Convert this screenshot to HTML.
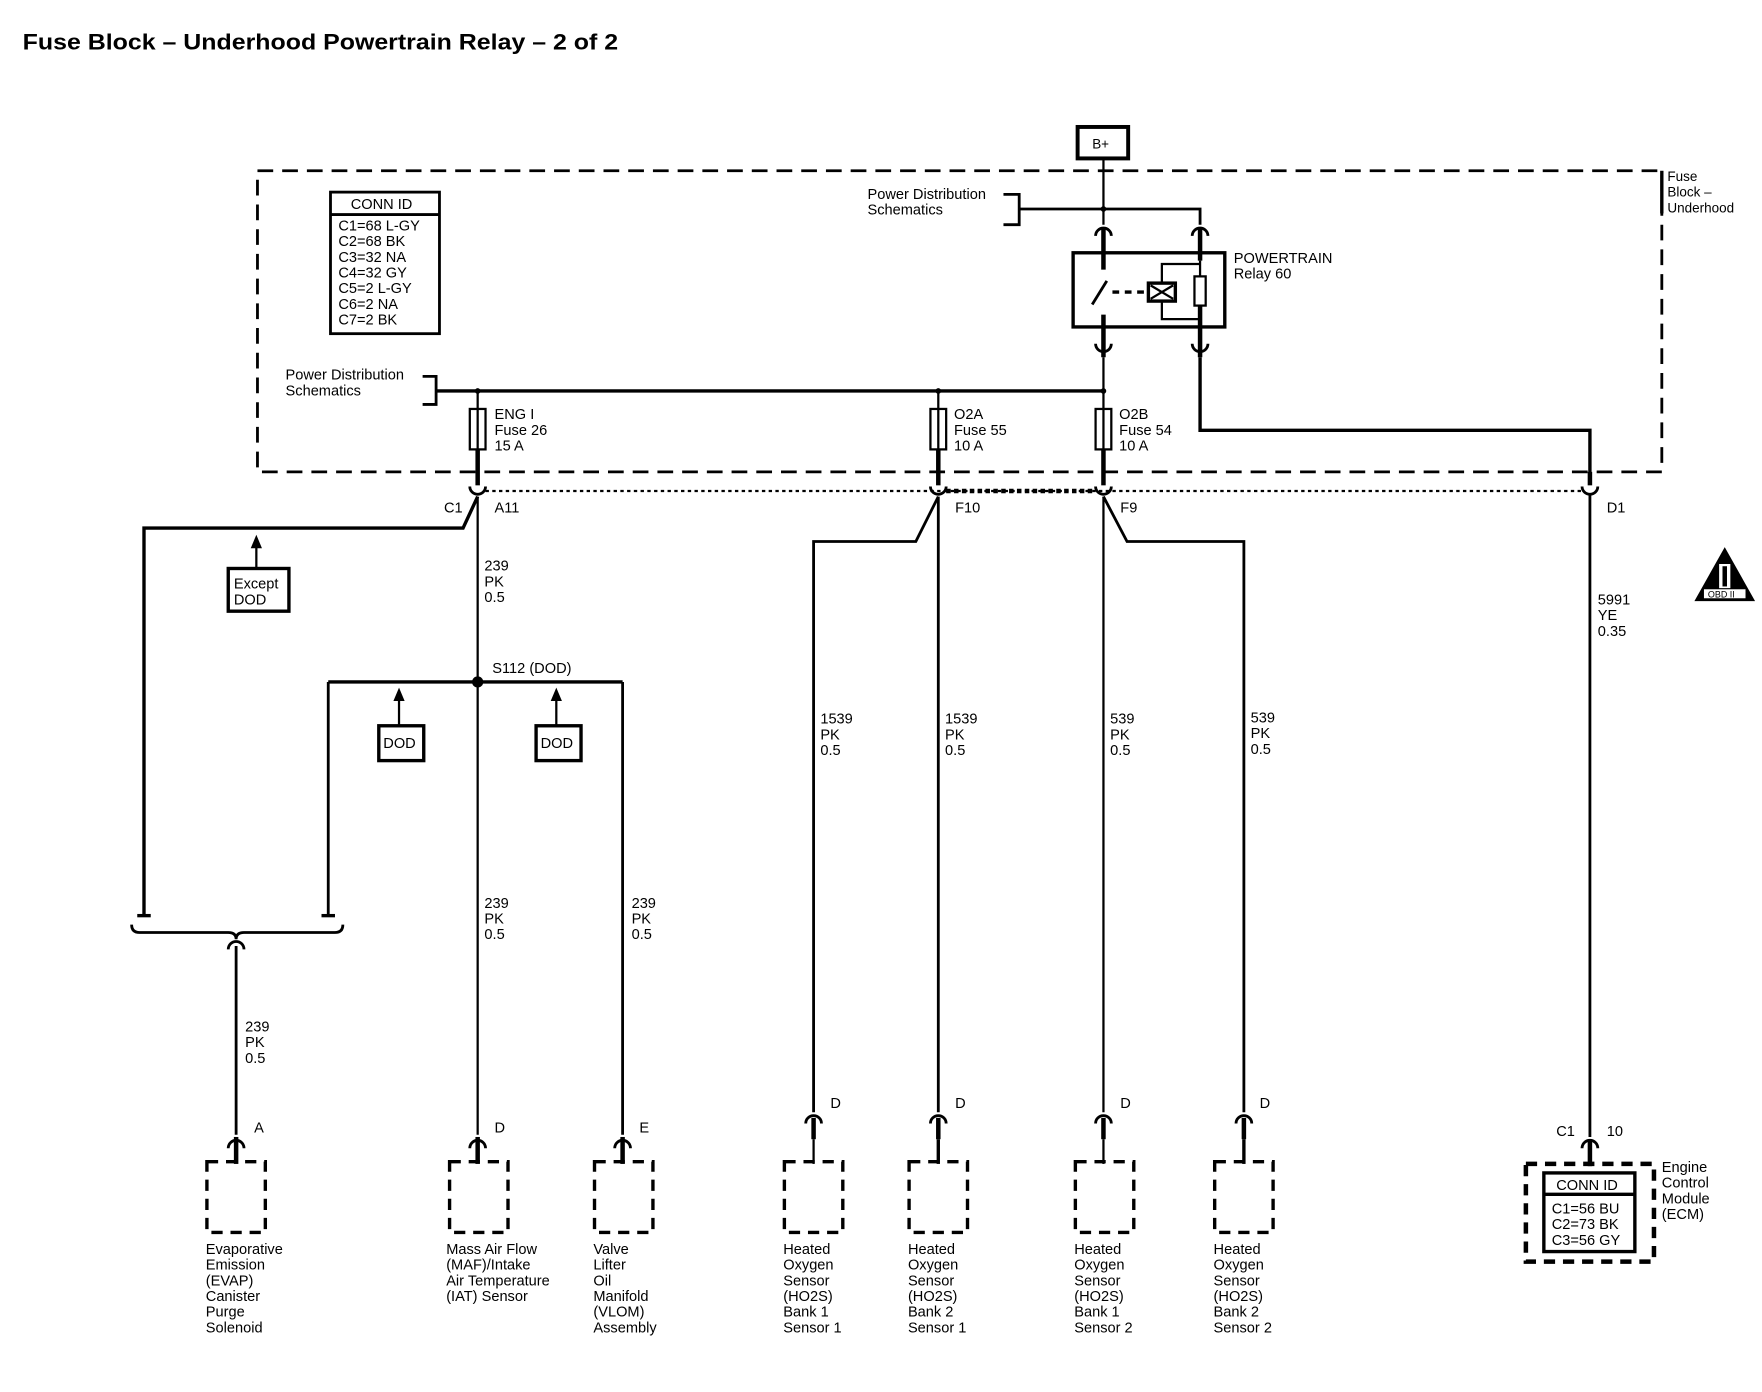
<!DOCTYPE html>
<html><head><meta charset="utf-8"><style>
html,body{margin:0;padding:0;background:#fff;}
svg{display:block;}
text{font-family:"Liberation Sans",sans-serif;font-size:13px;fill:#000;}
</style></head><body>
<svg width="1762" height="1392" viewBox="0 0 1568 1239" xmlns="http://www.w3.org/2000/svg">
<text x="20" y="44" style="font-size:20px;font-weight:bold" textLength="530" lengthAdjust="spacingAndGlyphs">Fuse Block – Underhood Powertrain Relay – 2 of 2</text>

<rect x="959" y="113" width="45" height="28" fill="none" stroke="#000" stroke-width="3.5"/>
<text x="972" y="132" style="font-size:12px">B+</text>

<rect x="229" y="152" width="1250" height="268" fill="none" stroke="#000" stroke-width="2.5" stroke-dasharray="14,8"/>
<line x1="1479" y1="152" x2="1479" y2="190" stroke="#000" stroke-width="3"/>
<text x="1484" y="161" style="font-size:12px">Fuse</text>
<text x="1484" y="175" style="font-size:12px">Block –</text>
<text x="1484" y="189" style="font-size:12px">Underhood</text>

<rect x="294" y="171" width="97" height="126" fill="none" stroke="#000" stroke-width="2.5"/>
<line x1="294" y1="191" x2="391" y2="191" stroke="#000" stroke-width="2.5"/>
<g style="font-size:12px">
<text x="312" y="186">CONN ID</text>
<text x="301" y="205">C1=68 L-GY</text>
<text x="301" y="219">C2=68 BK</text>
<text x="301" y="233">C3=32 NA</text>
<text x="301" y="247">C4=32 GY</text>
<text x="301" y="261">C5=2 L-GY</text>
<text x="301" y="275">C6=2 NA</text>
<text x="301" y="289">C7=2 BK</text>
</g>

<g stroke="#000" fill="none" stroke-width="2">
<line x1="982" y1="142" x2="982" y2="200"/>
<polyline points="907,186 1068,186 1068,200" stroke-width="2.5"/>
<polyline points="893,173 907,173 907,200 893,200" stroke-width="2.5"/>
<path d="M975,210 A7,7 0 0 1 989,210" stroke-width="2.5"/>
<path d="M1061,210 A7,7 0 0 1 1075,210" stroke-width="2.5"/>
<line x1="982" y1="203" x2="982" y2="240" stroke-width="4"/>
<line x1="1068" y1="203" x2="1068" y2="232" stroke-width="4"/>
<rect x="955" y="225" width="135" height="66" stroke-width="3"/>
<line x1="972" y1="271" x2="985" y2="250" stroke-width="2.5"/>
<line x1="990" y1="260" x2="1020" y2="260" stroke-width="3" stroke-dasharray="6,5"/>
<rect x="1022" y="252" width="24" height="16" stroke-width="3"/>
<line x1="1024" y1="254" x2="1044" y2="266" stroke-width="2"/>
<line x1="1044" y1="254" x2="1024" y2="266" stroke-width="2"/>
<polyline points="1034,252 1034,235 1068,235"/>
<polyline points="1034,268 1034,284 1068,284"/>
<rect x="1063" y="246" width="10" height="26" stroke-width="2"/>
<line x1="1068" y1="232" x2="1068" y2="246"/>
<line x1="1068" y1="272" x2="1068" y2="318" stroke-width="4"/>
<line x1="982" y1="280" x2="982" y2="318" stroke-width="4"/>
<path d="M975,306 A7,7 0 0 0 989,306" stroke-width="2.5"/>
<path d="M1061,306 A7,7 0 0 0 1075,306" stroke-width="2.5"/>
<line x1="982" y1="318" x2="982" y2="348"/>
<polyline points="1068,318 1068,383 1415,383 1415,428" stroke-width="3"/>
<polyline points="376,335 388,335 388,360 376,360" stroke-width="2.5"/>
<line x1="388" y1="348" x2="982" y2="348" stroke-width="3"/>
<line x1="425" y1="348" x2="425" y2="364"/>
<line x1="835" y1="348" x2="835" y2="364"/>
<line x1="982" y1="348" x2="982" y2="364"/>
<rect x="418" y="364" width="14" height="36"/>
<rect x="828" y="364" width="14" height="36"/>
<rect x="975" y="364" width="14" height="36"/>
<line x1="425" y1="364" x2="425" y2="400"/>
<line x1="835" y1="364" x2="835" y2="400"/>
<line x1="982" y1="364" x2="982" y2="400"/>
<line x1="425" y1="400" x2="425" y2="432" stroke-width="4"/>
<line x1="835" y1="400" x2="835" y2="432" stroke-width="4"/>
<line x1="982" y1="400" x2="982" y2="432" stroke-width="4"/>
<line x1="1415" y1="420" x2="1415" y2="432" stroke-width="4"/>
<line x1="432" y1="437" x2="1408" y2="437" stroke-dasharray="3,3"/>
<line x1="842" y1="437" x2="975" y2="437" stroke-width="4" stroke-dasharray="4,3"/>
<path d="M418,433 A7,7 0 0 0 432,433" stroke-width="2.5"/>
<path d="M828,433 A7,7 0 0 0 842,433" stroke-width="2.5"/>
<path d="M975,433 A7,7 0 0 0 989,433" stroke-width="2.5"/>
<path d="M1408,433 A7,7 0 0 0 1422,433" stroke-width="2.5"/>
<polyline points="425,442 412,470 128,470 128,815" stroke-width="3"/>
<line x1="425" y1="442" x2="425" y2="1010"/>
<line x1="292" y1="607" x2="554" y2="607" stroke-width="3"/>
<line x1="292" y1="607" x2="292" y2="815" stroke-width="2.5"/>
<line x1="554" y1="607" x2="554" y2="1010" stroke-width="2.5"/>
<line x1="228" y1="486" x2="228" y2="506"/>
<line x1="355" y1="622" x2="355" y2="646"/>
<line x1="495" y1="622" x2="495" y2="646"/>
<rect x="203" y="506" width="54" height="38" stroke-width="3"/>
<rect x="337" y="646" width="40" height="31" stroke-width="3"/>
<rect x="477" y="646" width="40" height="31" stroke-width="3"/>
<path d="M122,815 L134,815" stroke-width="3"/>
<path d="M286,815 L298,815" stroke-width="3"/>
<path d="M117,823 Q117,830 124,830 L203,830 Q210,830 210,836 Q210,830 217,830 L298,830 Q305,830 305,823" stroke-width="2.5"/>
<path d="M203,845 A7,7 0 0 1 217,845" stroke-width="2.5"/>
<line x1="210" y1="842" x2="210" y2="1010" stroke-width="2.5"/>
<polyline points="835,442 815,482 724,482 724,990" stroke-width="2.5"/>
<line x1="835" y1="442" x2="835" y2="990" stroke-width="2.5"/>
<polyline points="982,442 1003,482 1107,482 1107,990" stroke-width="2.5"/>
<line x1="982" y1="442" x2="982" y2="990"/>
<line x1="1415" y1="440" x2="1415" y2="1012" stroke-width="2.5"/>
<g stroke-width="3" stroke-dasharray="10,7">
<rect x="184" y="1034" width="52" height="63"/>
<rect x="400" y="1034" width="52" height="63"/>
<rect x="529" y="1034" width="52" height="63"/>
<rect x="698" y="1034" width="52" height="63"/>
<rect x="809" y="1034" width="52" height="63"/>
<rect x="957" y="1034" width="52" height="63"/>
<rect x="1081" y="1034" width="52" height="63"/>
<rect x="1358" y="1036" width="114" height="87" stroke-width="4"/>
</g>
<rect x="1374" y="1044" width="81" height="70" stroke-width="3"/>
<line x1="1374" y1="1063" x2="1455" y2="1063" stroke-width="3"/>
<polygon points="1535,487 1508,535 1562,535" fill="#000" stroke="none"/>
</g>

<g fill="none" stroke="#000">
<g stroke-width="2.5">
<path d="M203,1022 A7,7 0 0 1 217,1022"/><path d="M418,1022 A7,7 0 0 1 432,1022"/><path d="M547,1022 A7,7 0 0 1 561,1022"/>
<path d="M717,1000 A7,7 0 0 1 731,1000"/><path d="M828,1000 A7,7 0 0 1 842,1000"/><path d="M975,1000 A7,7 0 0 1 989,1000"/><path d="M1100,1000 A7,7 0 0 1 1114,1000"/>
<path d="M1408,1022 A7,7 0 0 1 1422,1022"/>
</g>
<g stroke-width="4">
<line x1="210" y1="1012" x2="210" y2="1036"/><line x1="425" y1="1012" x2="425" y2="1036"/><line x1="554" y1="1012" x2="554" y2="1036"/>
<line x1="724" y1="995" x2="724" y2="1014"/><line x1="835" y1="995" x2="835" y2="1014"/><line x1="982" y1="995" x2="982" y2="1014"/><line x1="1107" y1="995" x2="1107" y2="1014"/>
<line x1="1415" y1="1014" x2="1415" y2="1038"/>
</g>
<g stroke-width="2"><line x1="724" y1="1014" x2="724" y2="1036"/><line x1="835" y1="1014" x2="835" y2="1036" stroke-width="3"/><line x1="982" y1="1014" x2="982" y2="1036"/><line x1="1107" y1="1014" x2="1107" y2="1036" stroke-width="3"/></g>
</g>
<polygon points="228,476 223,488 233,488" fill="#000"/>
<polygon points="355,612 350,624 360,624" fill="#000"/>
<polygon points="495,612 490,624 500,624" fill="#000"/>
<circle cx="425" cy="607" r="5" fill="#000"/>
<circle cx="425" cy="348" r="2.5" fill="#000"/><circle cx="835" cy="348" r="2.5" fill="#000"/><circle cx="982" cy="348" r="2.5" fill="#000"/>
<circle cx="982" cy="186" r="2.5" fill="#000"/>
<rect x="1530" y="502" width="10" height="22" fill="#fff"/><rect x="1533" y="504" width="4" height="18" fill="#000"/>
<rect x="1516" y="524" width="38" height="9" fill="#fff" stroke="#000" stroke-width="1"/>
<text x="1520" y="532" style="font-size:8px">OBD II</text>

<g style="font-size:12px">
<text x="772" y="177">Power Distribution</text><text x="772" y="191">Schematics</text>
<text x="254" y="338">Power Distribution</text><text x="254" y="352">Schematics</text>
<text x="1098" y="234">POWERTRAIN</text><text x="1098" y="248">Relay 60</text>
<text x="440" y="373">ENG I</text><text x="440" y="387">Fuse 26</text><text x="440" y="401">15 A</text>
<text x="849" y="373">O2A</text><text x="849" y="387">Fuse 55</text><text x="849" y="401">10 A</text>
<text x="996" y="373">O2B</text><text x="996" y="387">Fuse 54</text><text x="996" y="401">10 A</text>
<text x="395" y="456">C1</text><text x="440" y="456">A11</text><text x="850" y="456">F10</text><text x="997" y="456">F9</text><text x="1430" y="456">D1</text>
<text x="208" y="524">Except</text><text x="208" y="538">DOD</text>
<text x="341" y="666">DOD</text><text x="481" y="666">DOD</text>
<text x="438" y="599">S112 (DOD)</text>
<text x="431" y="508">239</text><text x="431" y="522">PK</text><text x="431" y="536">0.5</text>
<text x="1422" y="538">5991</text><text x="1422" y="552">YE</text><text x="1422" y="566">0.35</text>
<text x="730" y="644">1539</text><text x="730" y="658">PK</text><text x="730" y="672">0.5</text>
<text x="841" y="644">1539</text><text x="841" y="658">PK</text><text x="841" y="672">0.5</text>
<text x="988" y="644">539</text><text x="988" y="658">PK</text><text x="988" y="672">0.5</text>
<text x="1113" y="643">539</text><text x="1113" y="657">PK</text><text x="1113" y="671">0.5</text>
<text x="431" y="808">239</text><text x="431" y="822">PK</text><text x="431" y="836">0.5</text>
<text x="562" y="808">239</text><text x="562" y="822">PK</text><text x="562" y="836">0.5</text>
<text x="218" y="918">239</text><text x="218" y="932">PK</text><text x="218" y="946">0.5</text>
<text x="226" y="1008">A</text><text x="440" y="1008">D</text><text x="569" y="1008">E</text>
<text x="739" y="986">D</text><text x="850" y="986">D</text><text x="997" y="986">D</text><text x="1121" y="986">D</text>
<text x="1385" y="1011">C1</text><text x="1430" y="1011">10</text>
<text x="1385" y="1059">CONN ID</text>
<text x="1381" y="1080">C1=56 BU</text><text x="1381" y="1094">C2=73 BK</text><text x="1381" y="1108">C3=56 GY</text>
<text x="1479" y="1043">Engine</text><text x="1479" y="1057">Control</text><text x="1479" y="1071">Module</text><text x="1479" y="1085">(ECM)</text>
<text x="183" y="1116">Evaporative</text><text x="183" y="1130">Emission</text><text x="183" y="1144">(EVAP)</text><text x="183" y="1158">Canister</text><text x="183" y="1172">Purge</text><text x="183" y="1186">Solenoid</text>
<text x="397" y="1116">Mass Air Flow</text><text x="397" y="1130">(MAF)/Intake</text><text x="397" y="1144">Air Temperature</text><text x="397" y="1158">(IAT) Sensor</text>
<text x="528" y="1116">Valve</text><text x="528" y="1130">Lifter</text><text x="528" y="1144">Oil</text><text x="528" y="1158">Manifold</text><text x="528" y="1172">(VLOM)</text><text x="528" y="1186">Assembly</text>
<text x="697" y="1116">Heated</text><text x="697" y="1130">Oxygen</text><text x="697" y="1144">Sensor</text><text x="697" y="1158">(HO2S)</text><text x="697" y="1172">Bank 1</text><text x="697" y="1186">Sensor 1</text>
<text x="808" y="1116">Heated</text><text x="808" y="1130">Oxygen</text><text x="808" y="1144">Sensor</text><text x="808" y="1158">(HO2S)</text><text x="808" y="1172">Bank 2</text><text x="808" y="1186">Sensor 1</text>
<text x="956" y="1116">Heated</text><text x="956" y="1130">Oxygen</text><text x="956" y="1144">Sensor</text><text x="956" y="1158">(HO2S)</text><text x="956" y="1172">Bank 1</text><text x="956" y="1186">Sensor 2</text>
<text x="1080" y="1116">Heated</text><text x="1080" y="1130">Oxygen</text><text x="1080" y="1144">Sensor</text><text x="1080" y="1158">(HO2S)</text><text x="1080" y="1172">Bank 2</text><text x="1080" y="1186">Sensor 2</text>
</g>
</svg>
</body></html>
